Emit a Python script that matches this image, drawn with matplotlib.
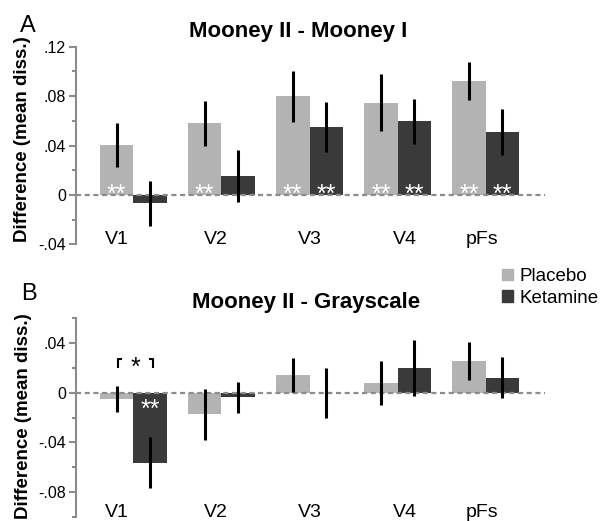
import matplotlib
matplotlib.use('Agg')
import matplotlib.pyplot as plt
from matplotlib.patches import Patch
from matplotlib.ticker import MultipleLocator, FuncFormatter
import numpy as np

plt.rcParams['font.family'] = ['Liberation Sans', 'DejaVu Sans']

# brain regions (x categories)
regions = ['V1', 'V2', 'V3', 'V4', 'pFs']

# panel A: Mooney II - Mooney I
placebo_a = [0.0407, 0.0581, 0.0800, 0.0747, 0.0923]
placebo_a_err = [0.0178, 0.0183, 0.0207, 0.0230, 0.0157]
ketamine_a = [-0.0067, 0.0152, 0.0547, 0.0595, 0.0512]
ketamine_a_err = [0.0182, 0.0210, 0.0203, 0.0183, 0.0187]
placebo_a_sig = ['**', '**', '**', '**', '**']
ketamine_a_sig = ['', '', '**', '**', '**']

# panel B: Mooney II - Grayscale
placebo_b = [-0.0051, -0.0174, 0.0142, 0.0080, 0.0257]
placebo_b_err = [0.0103, 0.0205, 0.0135, 0.0177, 0.0154]
ketamine_b = [-0.0562, -0.0038, -0.0005, 0.0200, 0.0121]
ketamine_b_err = [0.0208, 0.0127, 0.0200, 0.0226, 0.0165]
placebo_b_sig = ['', '', '', '', '']
ketamine_b_sig = ['**', '', '', '', '']

# placebo vs ketamine comparison in panel B (region index, marker)
between_sig_b = [(0, '*')]

placebo_color = '#b3b3b3'
ketamine_color = '#3a3a3a'
axis_gray = '#8c8c8c'
bar_w = 0.38
# small horizontal nudges of the region names, as in the original figure
label_shift = [-0.19, -0.06, 0.0, 0.08, -0.04]
# distance from the baseline to the middle of an asterisk (data units)
star_mid = 0.0115


def fmt_tick(v, pos):
    if abs(v) < 1e-9:
        return '0'
    return f'{v:.2f}'.replace('0.', '.')


def draw_panel(ax, placebo, placebo_err, ketamine, ketamine_err, p_sig, k_sig, ylim):
    x = np.arange(len(regions))
    ax.bar(x - bar_w / 2, placebo, bar_w, color=placebo_color, zorder=2)
    ax.bar(x + bar_w / 2, ketamine, bar_w, color=ketamine_color, zorder=2)
    # dashed zero line over the whole width
    ax.axhline(0, color=axis_gray, lw=1.6, dashes=(2.3, 1.6), zorder=3)
    ax.errorbar(x - bar_w / 2, placebo, yerr=placebo_err, fmt='none', ecolor='black',
                elinewidth=2.2, capsize=0, zorder=4)
    ax.errorbar(x + bar_w / 2, ketamine, yerr=ketamine_err, fmt='none', ecolor='black',
                elinewidth=2.2, capsize=0, zorder=4)
    # white stars inside the bars
    for xs, vals, sigs in [(x - bar_w / 2, placebo, p_sig), (x + bar_w / 2, ketamine, k_sig)]:
        for xi, v, s in zip(xs, vals, sigs):
            if not s:
                continue
            yc = 0.0061 if v > 0 else -0.0080
            ax.text(xi, yc - star_mid, s, color='white', fontsize=18, ha='center',
                    va='baseline', zorder=5)
    # region names at the bottom of the axes
    for i, name in enumerate(regions):
        ax.text(i + label_shift[i], ylim[0], name, fontsize=14, ha='center', va='baseline')

    ax.set_ylim(ylim)
    ax.set_xlim(-0.656, 4.673)
    for side in ['top', 'right', 'bottom']:
        ax.spines[side].set_visible(False)
    ax.spines['left'].set_color(axis_gray)
    ax.spines['left'].set_linewidth(1.5)
    ax.yaxis.set_major_locator(MultipleLocator(0.04))
    ax.yaxis.set_minor_locator(MultipleLocator(0.02))
    ax.yaxis.set_major_formatter(FuncFormatter(fmt_tick))
    ax.tick_params(axis='y', which='major', length=5, width=1.5, color=axis_gray,
                   labelsize=11.5, pad=2)
    ax.tick_params(axis='y', which='minor', length=3, width=1.5, color=axis_gray)
    ax.set_xticks([])


fig = plt.figure(figsize=(6.09, 5.21), dpi=100)
ax_a = fig.add_axes([0.124, 0.5309, 0.7709, 0.3795])
ax_b = fig.add_axes([0.124, 0.0077, 0.7709, 0.3817])

draw_panel(ax_a, placebo_a, placebo_a_err, ketamine_a, ketamine_a_err,
           placebo_a_sig, ketamine_a_sig, (-0.04, 0.12))
draw_panel(ax_b, placebo_b, placebo_b_err, ketamine_b, ketamine_b_err,
           placebo_b_sig, ketamine_b_sig, (-0.10, 0.06))

# bracket between placebo and ketamine in panel B
for idx, mark in between_sig_b:
    xl, xr = idx - 0.17, idx + 0.225
    ax_b.plot([xl, xl, xl + 0.045], [0.0196, 0.0269, 0.0269], color='black', lw=1.5,
              solid_capstyle='butt', zorder=5)
    ax_b.plot([xr - 0.045, xr, xr], [0.0269, 0.0269, 0.0196], color='black', lw=1.5,
              solid_capstyle='butt', zorder=5)
    ax_b.text((xl + xr) / 2, 0.0262 - star_mid, mark, fontsize=18, ha='center', va='baseline')

# titles, panel letters, y labels
fig.text(298 / 609, 0.9296, 'Mooney II - Mooney I', fontsize=16, fontweight='bold',
         ha='center', va='baseline')
fig.text(306 / 609, 0.4094, 'Mooney II - Grayscale', fontsize=16, fontweight='bold',
         ha='center', va='baseline')
fig.text(20 / 609, 0.939, 'A', fontsize=17, ha='left', va='baseline')
fig.text(21 / 609, 0.4242, 'B', fontsize=17, ha='left', va='baseline')
fig.text(0.037, 1 - 139 / 521, 'Difference (mean diss.)', fontsize=13.5, fontweight='bold',
         rotation=90, ha='center', va='center')
fig.text(0.038, 1 - 416 / 521, 'Difference (mean diss.)', fontsize=13.5, fontweight='bold',
         rotation=90, ha='center', va='center')

handles = [Patch(color=placebo_color, label='Placebo'),
           Patch(color=ketamine_color, label='Ketamine')]
fig.legend(handles=handles, loc='upper left', bbox_to_anchor=(502 / 609, 1 - 268 / 521),
           frameon=False, fontsize=13.5, handlelength=0.57, handleheight=0.57,
           handletextpad=0.36, labelspacing=0.25, borderpad=0, borderaxespad=0)

plt.savefig('out.png', dpi=100)
plt.close()
